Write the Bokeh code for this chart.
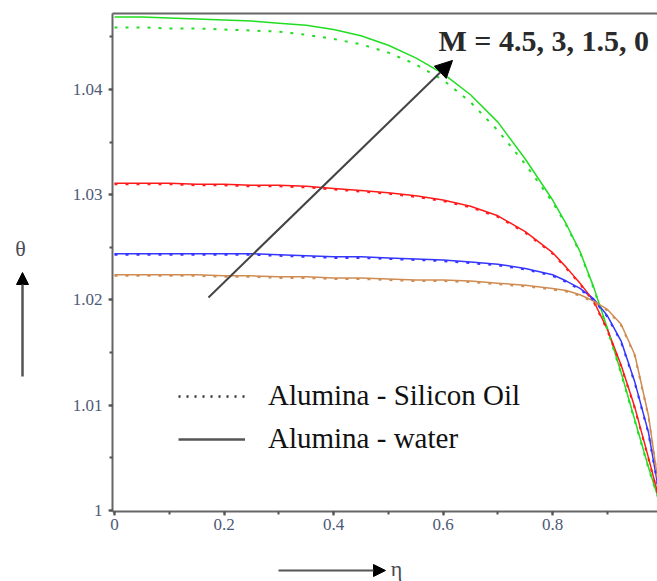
from bokeh.plotting import figure
from bokeh.models import (Range1d, LinearAxis, SingleIntervalTicker, CustomJSTickFormatter,
                          Label, Arrow, NormalHead, Legend, LegendItem)
from bokeh.embed import file_html
from bokeh.resources import INLINE

# ---------------- data ----------------
eta = [0, 0.05, 0.1, 0.15, 0.2, 0.25, 0.3, 0.35, 0.4, 0.45, 0.5, 0.55, 0.6, 0.65,
       0.7, 0.75, 0.8, 0.825, 0.85, 0.875, 0.9, 0.925, 0.95, 0.975, 1.0]

# Alumina - water (solid)
water_M0 = [1.0469, 1.0469, 1.0468, 1.0467, 1.0466, 1.0465, 1.0463, 1.0461, 1.0457, 1.0451,
            1.0442, 1.0430, 1.0415, 1.0395, 1.0369, 1.0334, 1.0295, 1.0272, 1.0246, 1.0212,
            1.0173, 1.0131, 1.0086, 1.0041, 1.0000]
water_M15 = [1.0311, 1.0311, 1.0311, 1.0310, 1.0310, 1.0309, 1.0309, 1.0308, 1.0306, 1.0304,
             1.0302, 1.0299, 1.0295, 1.0289, 1.0280, 1.0265, 1.0245, 1.0231, 1.0216, 1.0199,
             1.0172, 1.0138, 1.0098, 1.0050, 1.0000]
water_M3 = [1.0244, 1.0244, 1.0244, 1.0244, 1.0244, 1.0244, 1.0243, 1.0242, 1.0241, 1.0241,
            1.0240, 1.0239, 1.0238, 1.0236, 1.0234, 1.0230, 1.0224, 1.0218, 1.0211, 1.0201,
            1.0185, 1.0161, 1.0122, 1.0074, 1.0000]
water_M45 = [1.0224, 1.0224, 1.0224, 1.0224, 1.0223, 1.0223, 1.0222, 1.0222, 1.0221, 1.0221,
             1.0220, 1.0219, 1.0219, 1.0218, 1.0216, 1.0214, 1.0211, 1.0209, 1.0205, 1.0199,
             1.0191, 1.0177, 1.0148, 1.0090, 1.0000]

# Alumina - Silicon Oil (dotted)
oil_M0 = [1.0459, 1.0459, 1.0458, 1.0458, 1.0457, 1.0456, 1.0455, 1.0452, 1.0448, 1.0443,
          1.0435, 1.0424, 1.0409, 1.0388, 1.0361, 1.0329, 1.0293, 1.0271, 1.0245, 1.0211,
          1.0172, 1.0130, 1.0085, 1.0040, 1.0000]
oil_M15 = [1.0310, 1.0310, 1.0310, 1.0309, 1.0309, 1.0308, 1.0308, 1.0307, 1.0305, 1.0303,
           1.0301, 1.0298, 1.0294, 1.0288, 1.0279, 1.0264, 1.0244, 1.0230, 1.0215, 1.0198,
           1.0171, 1.0137, 1.0097, 1.0049, 1.0000]
oil_M3 = [1.0243, 1.0243, 1.0243, 1.0243, 1.0243, 1.0243, 1.0242, 1.0241, 1.0240, 1.0240,
          1.0239, 1.0238, 1.0237, 1.0235, 1.0233, 1.0229, 1.0223, 1.0217, 1.0210, 1.0200,
          1.0184, 1.0160, 1.0121, 1.0073, 1.0000]
oil_M45 = [1.0223, 1.0223, 1.0223, 1.0223, 1.0222, 1.0222, 1.0221, 1.0221, 1.0220, 1.0220,
           1.0219, 1.0218, 1.0218, 1.0217, 1.0215, 1.0213, 1.0210, 1.0208, 1.0204, 1.0198,
           1.0190, 1.0176, 1.0147, 1.0089, 1.0000]

series_colors = ["#22dd22", "#ff1a1a", "#3535ff", "#cf8c52"]  # M = 0, 1.5, 3, 4.5
water = [water_M0, water_M15, water_M3, water_M45]
oil = [oil_M0, oil_M15, oil_M3, oil_M45]

legend_labels = ["Alumina - Silicon Oil", "Alumina - water"]
m_label = "M = 4.5, 3, 1.5, 0"
x_label = "\u03b7"
y_label = "\u03b8"

# axes extents (data space)
eta_axis_min, eta_axis_max = -0.00365, 1.0
theta_axis_min, theta_axis_max = 0.999905, 1.04722

# annotation arrow (data space) for increasing M
m_arrow_start = (0.1716, 1.02024)
m_arrow_end = (0.6171, 1.04276)
m_label_pos = (0.5916, 1.04466)

# ---------------- figure ----------------
W, H = 657, 581
SERIF = "Liberation Serif"
TICK_COLOR = "#4d5a75"

p = figure(width=W, height=H, output_backend="svg", toolbar_location=None, title=None,
           x_range=Range1d(-0.20814, 0.99142), y_range=Range1d(0.993254, 1.048456),
           x_axis_type=None, y_axis_type=None, min_border=0)
p.outline_line_color = None
p.background_fill_color = "white"
p.border_fill_color = "white"

fmt = CustomJSTickFormatter(code="return String(Number(tick.toFixed(4)));")
xaxis = LinearAxis(ticker=SingleIntervalTicker(interval=0.2, num_minor_ticks=2), formatter=fmt,
                   fixed_location=theta_axis_min, bounds=(eta_axis_min, eta_axis_max))
yaxis = LinearAxis(ticker=SingleIntervalTicker(interval=0.01, num_minor_ticks=2), formatter=fmt,
                   fixed_location=eta_axis_min, bounds=(theta_axis_min, theta_axis_max))
for ax in (xaxis, yaxis):
    ax.axis_line_color = "#666666"
    ax.axis_line_width = 2
    ax.major_tick_line_color = "#555555"
    ax.major_tick_line_width = 2
    ax.major_tick_in = 0
    ax.major_tick_out = 4
    ax.minor_tick_line_color = "#555555"
    ax.minor_tick_line_width = 2
    ax.minor_tick_in = 0
    ax.minor_tick_out = 3
    ax.major_label_text_font = SERIF
    ax.major_label_text_font_size = "17px"
    ax.major_label_text_color = TICK_COLOR
xaxis.major_label_standoff = 4
yaxis.major_label_standoff = 6
p.add_layout(xaxis, "below")
p.add_layout(yaxis, "left")

top_axis = LinearAxis(ticker=SingleIntervalTicker(interval=0.2),
                      formatter=CustomJSTickFormatter(code="return '';"),
                      fixed_location=theta_axis_max, bounds=(eta_axis_min, eta_axis_max),
                      major_tick_line_color=None, minor_tick_line_color=None,
                      major_label_text_font_size="0px", major_label_standoff=0,
                      axis_line_color="#666666", axis_line_width=2)
p.add_layout(top_axis, "above")

# curves
for ys, c in zip(water, series_colors):
    p.line(eta, ys, line_color=c, line_width=1.5)
for ys, c in zip(oil, series_colors):
    p.line(eta, ys, line_color=c, line_width=2, line_dash="3 8")

# legend (style-only renderers, no visible data)
nan = float("nan")
r_dot = p.line(x=[nan], y=[nan], line_color="#333333", line_width=2.5, line_dash="2 6")
r_sol = p.line(x=[nan], y=[nan], line_color="#555555", line_width=2.5)
legend = Legend(items=[LegendItem(label=legend_labels[0], renderers=[r_dot]),
                       LegendItem(label=legend_labels[1], renderers=[r_sol])],
                location=(178, 126), orientation="vertical",
                glyph_width=67, glyph_height=30, label_height=30, label_standoff=23,
                spacing=10, padding=0, margin=0,
                border_line_color=None, background_fill_alpha=0,
                label_text_font=SERIF, label_text_font_size="29px", label_text_color="#111111")
p.add_layout(legend)

# M arrow + label
p.add_layout(Arrow(end=NormalHead(size=17, fill_color="black", line_color="black"),
                   x_start=m_arrow_start[0], y_start=m_arrow_start[1],
                   x_end=m_arrow_end[0], y_end=m_arrow_end[1],
                   line_color="#444444", line_width=2))
p.add_layout(Label(x=m_label_pos[0], y=m_label_pos[1], text=m_label, text_align="left",
                   text_baseline="middle", text_font=SERIF, text_font_size="30px",
                   text_font_style="bold", text_color="#2a2a2a"))

# axis titles with arrows (screen pixels, origin bottom-left of the canvas)
p.add_layout(Label(x=20, y=H - 248, x_units="screen", y_units="screen", text=y_label,
                   text_align="center", text_baseline="middle", text_font=SERIF,
                   text_font_size="22px", text_color="#4a4a55"))
p.add_layout(Arrow(end=NormalHead(size=12, fill_color="black", line_color="black"),
                   x_start=22, y_start=H - 376, x_end=22, y_end=H - 272,
                   start_units="screen", end_units="screen",
                   line_color="#555555", line_width=2.5))
p.add_layout(Label(x=396, y=H - 568, x_units="screen", y_units="screen", text=x_label,
                   text_align="center", text_baseline="middle", text_font=SERIF,
                   text_font_size="22px", text_color="#4a4a55"))
p.add_layout(Arrow(end=NormalHead(size=12, fill_color="black", line_color="black"),
                   x_start=278, y_start=H - 570, x_end=385, y_end=H - 570,
                   start_units="screen", end_units="screen",
                   line_color="#555555", line_width=2))

open("out.html", "w").write(file_html(p, INLINE))
